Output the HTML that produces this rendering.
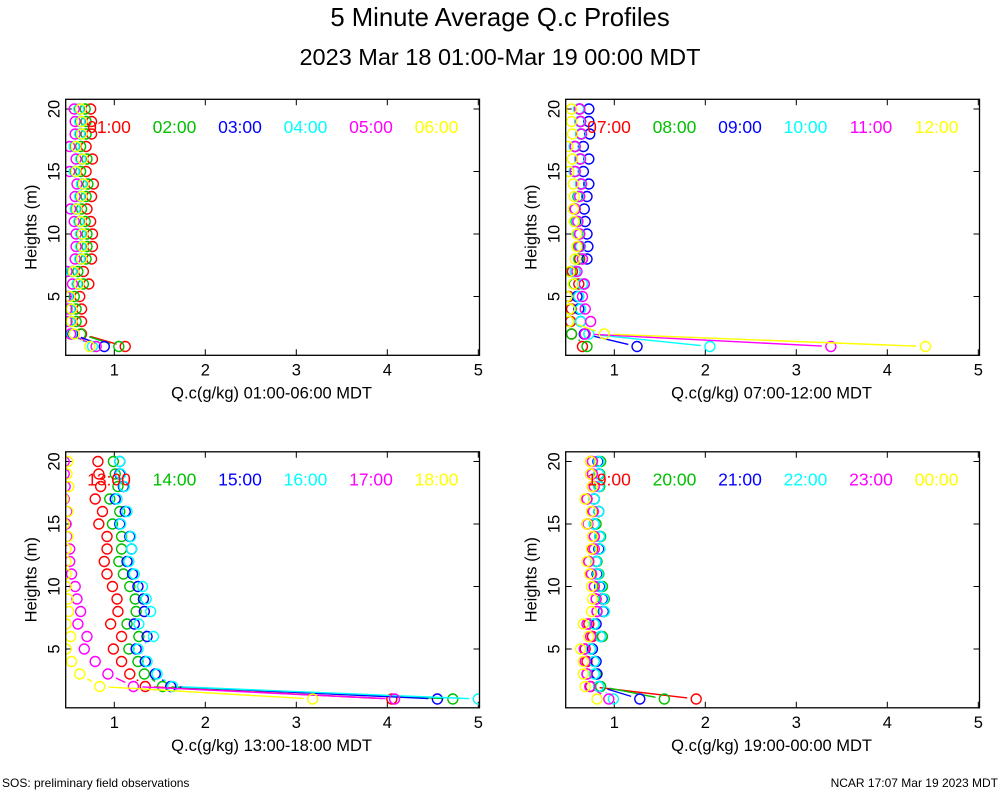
<!DOCTYPE html>
<html><head><meta charset="utf-8">
<style>
html,body{margin:0;padding:0;background:#fff;}
svg{display:block;font-family:"Liberation Sans",sans-serif;}
</style></head>
<body>
<svg id="chart" width="1000" height="800" viewBox="0 0 1000 800" xmlns="http://www.w3.org/2000/svg">
<rect x="0" y="0" width="1000" height="800" fill="#fff"/>
<text x="500" y="26" font-size="25.7" text-anchor="middle">5 Minute Average Q.c Profiles</text>
<text x="500" y="65" font-size="23.5" text-anchor="middle">2023 Mar 18 01:00-Mar 19 00:00 MDT</text>
<text x="2" y="787" font-size="12">SOS: preliminary field observations</text>
<text x="998" y="787" font-size="12" text-anchor="end">NCAR 17:07 Mar 19 2023 MDT</text>
</svg>
<script>
// heights from top (20) to bottom (1)
const heights = [20,19,18,17,16,15,14,13,12,11,10,9,8,7,6,5,4,3,2,1];
const colors = ["#ff0000","#00c000","#0000ff","#00ffff","#ff00ff","#ffff00"];
const xTicks = [1,2,3,4,5];
const yTicks = [5,10,15,20];

const p1Labels = ["01:00","02:00","03:00","04:00","05:00","06:00"];
const p1Red = [0.74,0.75,0.75,0.69,0.76,0.69,0.77,0.75,0.70,0.74,0.76,0.76,0.75,0.66,0.72,0.62,0.64,0.64,0.64,1.12];
const p1Green = [0.68,0.69,0.69,0.63,0.70,0.63,0.71,0.69,0.64,0.68,0.70,0.70,0.69,0.60,0.66,0.56,0.58,0.58,0.63,1.05];
const p1Blue = [0.62,0.63,0.63,0.57,0.64,0.57,0.65,0.63,0.58,0.62,0.64,0.64,0.63,0.54,0.60,0.50,0.52,0.52,0.54,0.89];
const p1Cyan = [0.61,0.62,0.62,0.56,0.63,0.56,0.64,0.62,0.57,0.61,0.63,0.63,0.62,0.53,0.59,0.49,0.51,0.51,0.53,0.76];
const p1Magenta = [0.56,0.57,0.57,0.51,0.58,0.51,0.59,0.57,0.52,0.56,0.58,0.58,0.57,0.48,0.54,0.47,0.48,0.48,0.52,0.80];
const p1Yellow = [0.63,0.64,0.64,0.58,0.65,0.58,0.66,0.64,0.59,0.63,0.65,0.65,0.64,0.55,0.61,0.51,0.53,0.53,0.56,0.73];

const p2Labels = ["07:00","08:00","09:00","10:00","11:00","12:00"];
const p2Red = [0.62,0.63,0.63,0.57,0.62,0.57,0.63,0.61,0.57,0.59,0.61,0.61,0.62,0.54,0.61,0.50,0.53,0.52,0.53,0.65];
const p2Green = [0.61,0.62,0.63,0.56,0.62,0.56,0.63,0.60,0.56,0.58,0.60,0.61,0.61,0.52,0.56,0.48,0.51,0.50,0.53,0.70];
const p2Blue = [0.72,0.72,0.73,0.66,0.72,0.66,0.72,0.70,0.67,0.68,0.70,0.71,0.70,0.57,0.67,0.59,0.61,0.63,0.67,1.25];
const p2Cyan = [0.61,0.62,0.63,0.56,0.62,0.56,0.63,0.61,0.57,0.59,0.61,0.63,0.65,0.57,0.65,0.61,0.63,0.63,0.72,2.05];
const p2Magenta = [0.62,0.63,0.64,0.57,0.63,0.57,0.64,0.62,0.57,0.60,0.62,0.62,0.65,0.59,0.67,0.65,0.68,0.74,0.68,3.38];
const p2Yellow = [0.53,0.53,0.54,0.49,0.54,0.50,0.55,0.56,0.55,0.56,0.59,0.59,0.57,0.51,0.55,0.48,0.51,0.50,0.89,4.42];

const p3Labels = ["13:00","14:00","15:00","16:00","17:00","18:00"];
const p3Red = [0.82,0.83,0.85,0.79,0.87,0.83,0.92,0.92,0.89,0.92,0.98,1.03,1.04,0.96,1.08,0.99,1.08,1.17,1.34,4.05];
const p3Green = [0.99,1.01,1.04,0.95,1.06,0.98,1.08,1.08,1.05,1.10,1.17,1.23,1.24,1.14,1.27,1.16,1.26,1.33,1.53,4.72];
const p3Blue = [1.06,1.06,1.10,1.01,1.12,1.06,1.17,1.19,1.14,1.20,1.26,1.32,1.33,1.22,1.36,1.24,1.34,1.45,1.62,4.55];
const p3Cyan = [1.06,1.07,1.11,1.03,1.14,1.07,1.18,1.19,1.16,1.22,1.31,1.35,1.40,1.27,1.43,1.26,1.36,1.47,1.64,5.0];
const p3Magenta = [0.45,0.45,0.46,0.45,0.48,0.47,0.48,0.51,0.51,0.53,0.57,0.59,0.63,0.60,0.70,0.67,0.79,0.93,1.21,4.08];
const p3Yellow = [0.49,0.48,0.50,0.44,0.49,0.45,0.49,0.47,0.47,0.47,0.47,0.49,0.50,0.47,0.52,0.47,0.53,0.62,0.84,3.18];

const p4Labels = ["19:00","20:00","21:00","22:00","23:00","00:00"];
const p4Red = [0.74,0.74,0.76,0.70,0.76,0.70,0.78,0.76,0.72,0.74,0.78,0.80,0.81,0.72,0.76,0.68,0.70,0.70,0.74,1.90];
const p4Green = [0.85,0.84,0.84,0.78,0.83,0.80,0.85,0.84,0.81,0.83,0.87,0.89,0.89,0.78,0.87,0.74,0.78,0.80,0.85,1.55];
const p4Blue = [0.82,0.83,0.83,0.78,0.83,0.78,0.84,0.83,0.80,0.81,0.84,0.87,0.88,0.80,0.85,0.76,0.80,0.81,0.83,1.28];
const p4Cyan = [0.83,0.83,0.83,0.78,0.83,0.78,0.84,0.84,0.80,0.82,0.85,0.88,0.89,0.78,0.85,0.74,0.78,0.78,0.83,0.99];
const p4Magenta = [0.76,0.76,0.78,0.70,0.77,0.71,0.78,0.78,0.72,0.75,0.78,0.80,0.81,0.70,0.74,0.67,0.68,0.70,0.73,0.94];
const p4Yellow = [0.74,0.74,0.76,0.68,0.75,0.70,0.76,0.75,0.70,0.73,0.75,0.76,0.75,0.66,0.72,0.63,0.66,0.66,0.68,0.81];

const svg = document.getElementById('chart');
const NS = "http://www.w3.org/2000/svg";
function mk(tag, attrs, parent){
  const e = document.createElementNS(NS, tag);
  for (const k in attrs) e.setAttribute(k, attrs[k]);
  (parent||svg).appendChild(e);
  return e;
}

const panels = [
  {dx:0, dy:0, id:"p1", labels:p1Labels, series:[p1Red,p1Green,p1Blue,p1Cyan,p1Magenta,p1Yellow], xlab:"Q.c(g/kg) 01:00-06:00 MDT"},
  {dx:500, dy:0, id:"p2", labels:p2Labels, series:[p2Red,p2Green,p2Blue,p2Cyan,p2Magenta,p2Yellow], xlab:"Q.c(g/kg) 07:00-12:00 MDT"},
  {dx:0, dy:352.5, id:"p3", labels:p3Labels, series:[p3Red,p3Green,p3Blue,p3Cyan,p3Magenta,p3Yellow], xlab:"Q.c(g/kg) 13:00-18:00 MDT"},
  {dx:500, dy:352.5, id:"p4", labels:p4Labels, series:[p4Red,p4Green,p4Blue,p4Cyan,p4Magenta,p4Yellow], xlab:"Q.c(g/kg) 19:00-00:00 MDT"}
];

panels.forEach(function(p){
  const L = 65.7 + p.dx, R = 479.5 + p.dx, T = 99.3 + p.dy, B = 355.3 + p.dy;
  const xs = function(v){ return 114.3 + p.dx + (v - 1) * 91; };
  const ys = function(h){ return 109 + p.dy + (20 - h) * 12.5; };
  const g = mk('g', {});
  
  
  const clipId = 'clip-' + p.id;
  const cp = mk('clipPath', {id: clipId}, g);
  mk('rect', {x:L, y:T, width:R-L, height:B-T}, cp);

  xTicks.forEach(function(t){
    const x = xs(t);
    const tk = mk('path', {d:'M'+x+' '+B+'V'+(B-6)+'M'+x+' '+T+'V'+(T+6), stroke:'#000', 'stroke-width':1, fill:'none'}, g);
    
    
    const tl = mk('text', {x:x, y:B+20, 'font-size':16.5, 'text-anchor':'middle'}, g);
    tl.textContent = t;
    
    
  });
  yTicks.forEach(function(t){
    const y = ys(t);
    const tk = mk('path', {d:'M'+L+' '+y+'H'+(L+6)+'M'+R+' '+y+'H'+(R-6), stroke:'#000', 'stroke-width':1, fill:'none'}, g);
    
    
    const tl = mk('text', {x:0, y:0, 'font-size':16.5, 'text-anchor':'middle', transform:'translate('+(L-6)+','+y+') rotate(-90)'}, g);
    tl.textContent = t;
    
    
  });

  const plot = mk('g', {'clip-path':'url(#'+clipId+')'}, g);
  
  
  p.series.forEach(function(vals, si){
    const sg = mk('g', {stroke:colors[si], fill:'none', 'stroke-width':1.4}, plot);
    
    
    for (let i = 0; i < vals.length - 1; i++){
      const x1 = xs(vals[i]), y1 = ys(heights[i]), x2 = xs(vals[i+1]), y2 = ys(heights[i+1]);
      const len = Math.hypot(x2-x1, y2-y1), gap = 9;
      if (len > 2*gap + 1){
        const ux = (x2-x1)/len, uy = (y2-y1)/len;
        const ln = mk('line', {x1:x1+ux*gap, y1:y1+uy*gap, x2:x2-ux*gap, y2:y2-uy*gap}, sg);
        
        
      }
    }
    vals.forEach(function(v, i){
      const c = mk('circle', {cx:xs(v), cy:ys(heights[i]), r:5}, sg);
      
      
    });
  });

  p.labels.forEach(function(lab, i){
    const t = mk('text', {x:109 + p.dx + i*65.5, y:133 + p.dy, 'font-size':17.5, 'text-anchor':'middle', fill:colors[i]}, g);
    t.textContent = lab;
    
    
  });

  const box = mk('rect', {x:L, y:T, width:R-L, height:B-T, fill:'none', stroke:'#000', 'stroke-width':1.3}, g);
  
  

  const xl = mk('text', {x:(L+R)/2 - 1, y:B+43, 'font-size':16.5, 'text-anchor':'middle'}, g);
  xl.textContent = p.xlab;
  
  
  const yl = mk('text', {x:0, y:0, 'font-size':16.5, 'text-anchor':'middle', transform:'translate('+(L-29)+','+((T+B)/2)+') rotate(-90)'}, g);
  yl.textContent = 'Heights (m)';
  
  
});
</script>
</body></html>
